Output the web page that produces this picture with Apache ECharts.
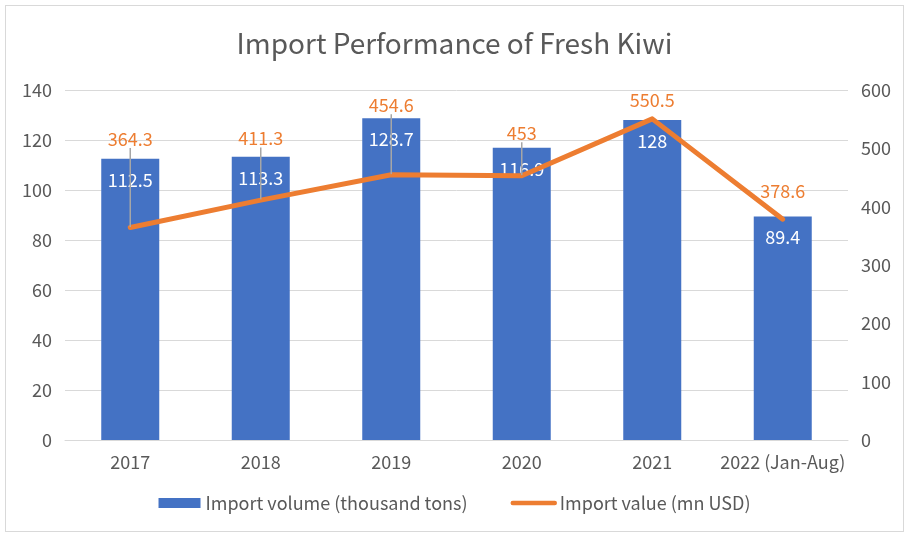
<!DOCTYPE html>
<html>
<head>
<meta charset="utf-8">
<script src="https://cdn.jsdelivr.net/npm/echarts@6/dist/echarts.min.js"></script>
<style>
  html, body { margin: 0; padding: 0; background: #fff; }
  #frame { position: absolute; left: 5px; top: 5px; width: 897px; height: 525px; border: 1px solid #d9d9d9; }
  #chart { position: absolute; left: 0; top: 0; width: 909px; height: 538px; }
</style>
</head>
<body>
<div id="frame"></div>
<div id="chart"></div>
<script>
// 数据
var years = ['2017', '2018', '2019', '2020', '2021', '2022 (Jan-Aug)'];
var volume = [112.5, 113.3, 128.7, 116.9, 128, 89.4];
var value = [364.3, 411.3, 454.6, 453, 550.5, 378.6];
// 折线标签上移量（像素）
var labelShift = [-73, -46, -54, -27, -3, -12];

var FONT = '"Noto Sans CJK SC", "Noto Sans", sans-serif';
var chart = echarts.init(document.getElementById('chart'));

var valueData = value.map(function(v, i) {
	return {
		value: v,
		labelLine: { show: labelShift[i] < -20 }
	};
});

var option = {
	animation: false,
	title: {
		text: 'Import Performance of Fresh Kiwi',
		left: 'center',
		top: 24,
		textStyle: { fontFamily: FONT, fontSize: 28, fontWeight: 'normal', color: '#595959' }
	},
	legend: {
		bottom: 21,
		left: 'center',
		itemGap: 43,
		itemWidth: 42,
		itemHeight: 10,
		textStyle: { fontFamily: FONT, fontSize: 18, color: '#595959' },
		data: [
			{ name: 'Import volume (thousand tons)', icon: 'rect' },
			{ name: 'Import value (mn USD)', itemStyle: { opacity: 0 }, lineStyle: { width: 4.5, cap: 'round' } }
		]
	},
	grid: { left: 65, right: 61, top: 90, bottom: 98 },
	xAxis: {
		type: 'category',
		data: years,
		axisLine: { lineStyle: { color: '#d9d9d9' } },
		axisTick: { show: false },
		axisLabel: { fontFamily: FONT, fontSize: 18, color: '#595959', margin: 13, interval: 0 }
	},
	yAxis: [{
		type: 'value',
		min: 0, max: 140, interval: 20,
		axisLabel: { fontFamily: FONT, fontSize: 18, color: '#595959', margin: 13 },
		splitLine: { lineStyle: { color: '#d9d9d9' } }
	}, {
		type: 'value',
		min: 0, max: 600, interval: 100,
		axisLabel: { fontFamily: FONT, fontSize: 18, color: '#595959', margin: 13 },
		splitLine: { show: false }
	}],
	series: [{
		name: 'Import volume (thousand tons)',
		type: 'bar',
		barWidth: 58,
		itemStyle: { color: '#4472C4' },
		label: {
			show: true,
			position: 'insideTop',
			distance: 12,
			color: '#fff',
			fontFamily: FONT,
			fontSize: 18
		},
		data: volume
	}, {
		name: 'Import value (mn USD)',
		type: 'line',
		yAxisIndex: 1,
		symbol: 'circle',
		symbolSize: 1,
		lineStyle: { color: '#ED7D31', width: 5, cap: 'round', join: 'round' },
		itemStyle: { color: '#ED7D31' },
		z: 5,
		label: {
			show: true,
			position: 'top',
			distance: 6,
			color: '#ED7D31',
			fontFamily: FONT,
			fontSize: 18
		},
		labelLine: { show: true, lineStyle: { color: '#a6a6a6', width: 1.5 } },
		labelLayout: function(params) {
			return { dy: labelShift[params.dataIndex] };
		},
		data: valueData
	}]
};
chart.setOption(option);
</script>
</body>
</html>
